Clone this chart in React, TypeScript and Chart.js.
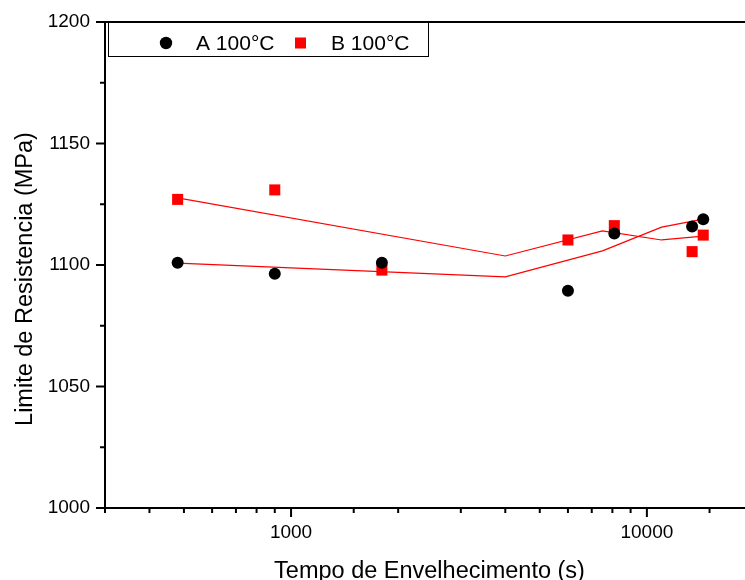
import React, { useEffect, useRef } from 'react';
import { Chart, registerables } from 'chart.js';

Chart.register(...registerables);

// ---- data ----
const times = [480, 900, 1800, 6000, 8100, 13400, 14400];
const valuesA = [1100.9, 1096.4, 1100.9, 1089.4, 1113.0, 1115.8, 1118.8];
const valuesB = [1127.0, 1130.9, 1097.9, 1110.3, 1116.2, 1105.5, 1112.3];
const fitTimes = [480, 4000, 7500, 11000, 14400];
const fitUpper = [1127.6, 1103.7, 1114.0, 1110.3, 1111.9];
const fitLower = [1100.8, 1095.1, 1105.8, 1115.6, 1118.9];
const xTickLabels = [1000, 10000];
const yTickLabels = [1000, 1050, 1100, 1150, 1200];
const seriesNames = ['A 100°C', 'B 100°C'];
const xTitle = 'Tempo de Envelhecimento (s)';
const yTitle = 'Limite de Resistencia (MPa)';

const FONT = '"Liberation Sans", Arial, sans-serif';
const RED = '#ff0000';
const BLACK = '#000000';

const toPoints = (xs: number[], ys: number[]) => xs.map((x, i) => ({ x, y: ys[i] }));

const clearPadding = (s: any) => {
  s.paddingTop = 0;
  s.paddingBottom = 0;
  s.paddingLeft = 0;
  s.paddingRight = 0;
};

const framePlugin = {
  id: 'frame',
  afterDatasetsDraw(chart: any) {
    const { ctx, chartArea: a, scales } = chart;
    const xs = scales.x;
    const ys = scales.y;
    ctx.save();
    ctx.strokeStyle = BLACK;
    ctx.lineWidth = 2;
    ctx.beginPath();
    ctx.moveTo(a.left, a.top);
    ctx.lineTo(a.right, a.top);
    ctx.lineTo(a.right, a.bottom);
    ctx.lineTo(a.left, a.bottom);
    ctx.closePath();
    ctx.stroke();

    ctx.lineWidth = 2;
    xs.ticks.forEach((t: any) => {
      const px = xs.getPixelForValue(t.value);
      const lg = Math.log10(t.value);
      const major = Math.abs(lg - Math.round(lg)) < 1e-9;
      ctx.beginPath();
      ctx.moveTo(px, a.bottom);
      ctx.lineTo(px, a.bottom + (major ? 9 : 5));
      ctx.stroke();
    });
    ys.ticks.forEach((t: any) => {
      const py = ys.getPixelForValue(t.value);
      const major = yTickLabels.includes(t.value);
      ctx.beginPath();
      ctx.moveTo(a.left, py);
      ctx.lineTo(a.left - (major ? 9 : 5), py);
      ctx.stroke();
    });

    // axis titles
    ctx.fillStyle = BLACK;
    ctx.font = `23.5px ${FONT}`;
    ctx.textAlign = 'center';
    ctx.textBaseline = 'alphabetic';
    ctx.fillText(xTitle, (a.left + a.right) / 2, 578);
    ctx.save();
    ctx.translate(31.5, (a.top + a.bottom) / 2 + 14);
    ctx.rotate(-Math.PI / 2);
    ctx.fillText(yTitle, 0, 0);
    ctx.restore();

    // legend
    ctx.fillStyle = '#ffffff';
    ctx.fillRect(108.5, 22.5, 320, 34);
    ctx.lineWidth = 1;
    ctx.strokeRect(108.5, 22.5, 320, 34);
    ctx.fillStyle = BLACK;
    ctx.beginPath();
    ctx.arc(166, 43, 6.2, 0, Math.PI * 2);
    ctx.fill();
    ctx.fillStyle = RED;
    ctx.fillRect(295, 37.5, 11, 11);
    ctx.fillStyle = BLACK;
    ctx.font = `21px ${FONT}`;
    ctx.textAlign = 'left';
    ctx.fillText(seriesNames[0], 196, 50);
    ctx.fillText(seriesNames[1], 331, 50);
    ctx.restore();
  },
};

export default function App() {
  const ref = useRef<HTMLCanvasElement | null>(null);

  useEffect(() => {
    if (!ref.current) return;
    const chart = new Chart(ref.current, {
      type: 'scatter',
      data: {
        datasets: [
          {
            label: seriesNames[0],
            data: toPoints(times, valuesA),
            pointStyle: 'circle',
            pointRadius: 6,
            pointBorderWidth: 0,
            backgroundColor: BLACK,
            borderColor: BLACK,
          },
          {
            label: seriesNames[1],
            data: toPoints(times, valuesB),
            pointStyle: 'rect',
            pointRadius: 7.8,
            pointBorderWidth: 0,
            backgroundColor: RED,
            borderColor: RED,
          },
          {
            label: 'fit upper',
            data: toPoints(fitTimes, fitUpper),
            showLine: true,
            pointRadius: 0,
            borderColor: RED,
            borderWidth: 1.2,
            tension: 0,
          },
          {
            label: 'fit lower',
            data: toPoints(fitTimes, fitLower),
            showLine: true,
            pointRadius: 0,
            borderColor: RED,
            borderWidth: 1.2,
            tension: 0,
          },
        ],
      },
      options: {
        animation: false,
        responsive: false,
        devicePixelRatio: 1,
        layout: { autoPadding: false, padding: { top: 22, right: 6, bottom: 0, left: 0 } },
        plugins: {
          legend: { display: false },
          tooltip: { enabled: false },
          title: { display: false },
        },
        scales: {
          x: {
            type: 'logarithmic',
            min: 300,
            max: 20000,
            grid: { display: false, drawTicks: false, tickLength: 0 },
            border: { display: false },
            title: { display: false },
            afterFit: (s: any) => {
              s.height = 72;
              clearPadding(s);
            },
            ticks: {
              autoSkip: false,
              maxRotation: 0,
              padding: 13,
              color: BLACK,
              font: { family: FONT, size: 19 },
              callback: (v: any) => {
                const n = Number(v);
                return xTickLabels.some((t) => Math.abs(t - n) < 1e-6) ? String(n) : '';
              },
            },
          },
          y: {
            type: 'linear',
            min: 1000,
            max: 1200,
            grid: { display: false, drawTicks: false, tickLength: 0 },
            border: { display: false },
            title: { display: false },
            afterFit: (s: any) => {
              s.width = 105;
              clearPadding(s);
            },
            ticks: {
              autoSkip: false,
              stepSize: 25,
              padding: 15,
              color: BLACK,
              font: { family: FONT, size: 19 },
              callback: (v: any) => (yTickLabels.includes(Number(v)) ? String(v) : ''),
            },
          },
        },
      },
      plugins: [framePlugin],
    } as any);
    return () => chart.destroy();
  }, []);

  return (
    <div
      style={{
        position: 'fixed',
        left: 0,
        top: 0,
        width: 745,
        height: 580,
        overflow: 'hidden',
        background: '#ffffff',
      }}
    >
      <canvas ref={ref} width={760} height={580} style={{ width: 760, height: 580, display: 'block' }} />
    </div>
  );
}
